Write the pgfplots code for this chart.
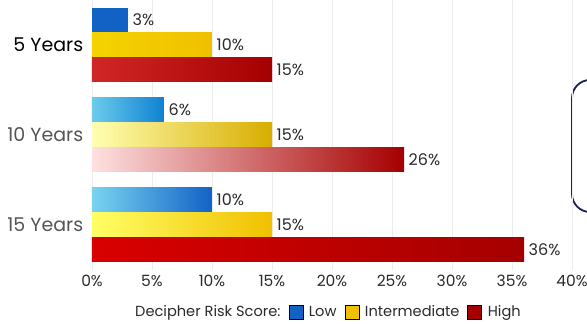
\documentclass[border=0pt]{standalone}
\usepackage{pgfplots}
\pgfplotsset{compat=1.18}
\usepackage{fontspec}
\setmainfont{Poppins}
\definecolor{lowblue}{HTML}{1262C6}
\definecolor{midyellow}{HTML}{F0C000}
\definecolor{highred}{HTML}{A50000}
\definecolor{txt}{HTML}{2A2A2A}
\definecolor{txtg}{HTML}{555555}
\definecolor{navy}{HTML}{1C2150}
\begin{document}
\begin{tikzpicture}[x=1pt,y=1pt]
\useasboundingbox (0,0) rectangle (587,324);
\draw[navy, line width=1.8pt, rounded corners=18pt] (572,112) rectangle (650,244);
\begin{axis}[at={(92pt,54pt)}, anchor=south west, scale only axis,
  width=480pt, height=270pt,
  xmin=0, xmax=40, ymin=-0.5, ymax=2.5,
  xbar, bar width=24pt,
  xtick={0,5,...,40},
  /pgf/number format/assume math mode=true,
  xticklabel={\pgfmathprintnumber{\tick}\%},
  ytick={0,1,2}, yticklabels={\textcolor{txtg}{15 Years},\textcolor{txtg}{10 Years},\textcolor{black}{5 Years}},
  yticklabel style={font=\fontsize{19}{21}\selectfont, xshift=-1pt},
  xticklabel style={font=\fontsize{15.5}{17}\selectfont, text=txt, yshift=-2pt},
  xmajorgrids, grid style={draw=black!7, line width=0.8pt},
  axis line style={draw=none}, major tick style={draw=none},
  nodes near coords={\pgfmathprintnumber{\pgfplotspointmeta}\%},
  every node near coord/.append style={font=\fontsize{16}{18}\selectfont, text=txt, inner sep=4.5pt},
  legend style={at={(0.4875,-0.1556)}, anchor=center, draw=none, fill=none,
    legend columns=-1, font=\fontsize{14.6}{17}\selectfont, text=txt,
    /tikz/every even column/.append style={column sep=6pt},
    /tikz/every odd column/.append style={column sep=4pt}},
  legend image code/.code={\fill[#1] (0pt,-7pt) rectangle (14pt,7pt);},
  legend entries={Decipher Risk Score:, Low, Intermediate, High},
]
\addlegendimage{empty legend}
\addlegendimage{fill=lowblue}
\addlegendimage{fill=midyellow}
\addlegendimage{fill=highred}
% 5 Years
\addplot[forget plot, draw=none, fill=lowblue, bar shift=25pt] coordinates {(3,2)};
\addplot[forget plot, draw=none, left color=midyellow!70!yellow, right color=midyellow, bar shift=0pt] coordinates {(10,2)};
\addplot[forget plot, draw=none, left color=highred!60!red!85!white, right color=highred, bar shift=-25pt] coordinates {(15,2)};
% 10 Years
\addplot[forget plot, draw=none, left color=lowblue!55!cyan!60!white, right color=lowblue!80!cyan, bar shift=25pt] coordinates {(6,1)};
\addplot[forget plot, draw=none, left color=yellow!30!white, right color=midyellow!90!black, bar shift=0pt] coordinates {(15,1)};
\addplot[forget plot, draw=none, left color=red!12!white, right color=highred, bar shift=-25pt] coordinates {(26,1)};
% 15 Years
\addplot[forget plot, draw=none, left color=lowblue!50!cyan!55!white, right color=lowblue, bar shift=25pt] coordinates {(10,0)};
\addplot[forget plot, draw=none, left color=yellow!60!white, right color=midyellow, bar shift=0pt] coordinates {(15,0)};
\addplot[forget plot, draw=none, left color=red!85!black, right color=highred, bar shift=-25pt] coordinates {(36,0)};
\end{axis}
\end{tikzpicture}
\end{document}
